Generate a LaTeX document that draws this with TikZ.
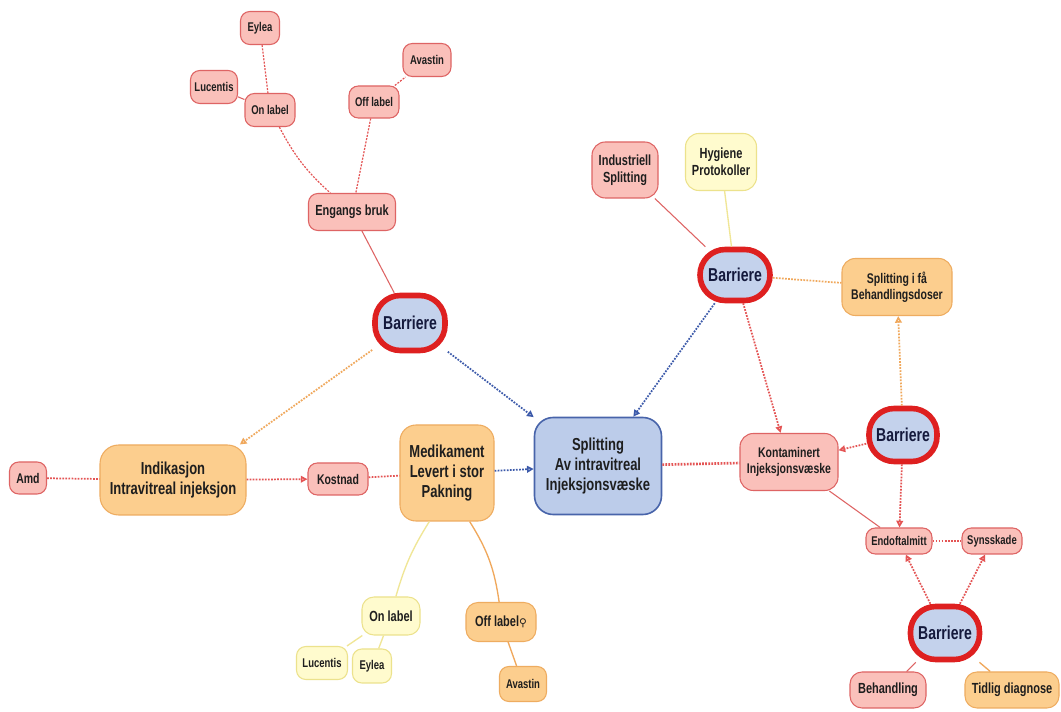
\documentclass[tikz,border=0pt]{standalone}
\usepackage{fontspec}
\newfontfamily\nf{Liberation Sans}[FakeStretch=0.75]
\newfontfamily\symf{DejaVu Sans}
\usetikzlibrary{arrows.meta}
\definecolor{rfill}{RGB}{250,192,186}
\definecolor{rdraw}{RGB}{222,100,100}
\definecolor{ofill}{RGB}{252,206,142}
\definecolor{odraw}{RGB}{238,172,96}
\definecolor{yfill}{RGB}{255,251,206}
\definecolor{ydraw}{RGB}{236,226,140}
\definecolor{bfill}{RGB}{188,204,234}
\definecolor{bdraw}{RGB}{72,100,170}
\definecolor{barfill}{RGB}{196,210,236}
\definecolor{bardraw}{RGB}{222,32,32}
\definecolor{ered}{RGB}{228,84,84}
\definecolor{eblue}{RGB}{60,90,170}
\definecolor{eorange}{RGB}{240,168,92}
\definecolor{eyellow}{RGB}{240,230,150}
\definecolor{txt}{RGB}{30,30,30}
\definecolor{bartxt}{RGB}{20,25,60}
\tikzset{
  base/.style={rectangle, rounded corners=7pt, align=center, inner sep=1pt,
    text=txt, line width=0.8pt},
  rnode/.style={base, fill=rfill, draw=rdraw},
  onode/.style={base, fill=ofill, draw=odraw},
  ynode/.style={base, fill=yfill, draw=ydraw},
  bnode/.style={base, fill=bfill, draw=bdraw, line width=1.2pt, rounded corners=14pt},
  barnode/.style={base, fill=barfill, draw=bardraw, line width=4.2pt,
    rounded corners=19pt, text=bartxt, font=\nf\bfseries\fontsize{14}{15}\selectfont},
  sz/.style 2 args={minimum width=#1*0.75pt, minimum height=#2*0.75pt},
  fsS/.style={font=\nf\bfseries\fontsize{9.5}{11}\selectfont},
  fsM/.style={font=\nf\bfseries\fontsize{10.5}{12}\selectfont},
  fsL/.style={font=\nf\bfseries\fontsize{11}{12.5}\selectfont},
  fsX/.style={font=\nf\bfseries\fontsize{13}{15}\selectfont},
  dotr/.style={draw=ered, line width=1.3pt, densely dotted},
  dotb/.style={draw=eblue, line width=1.3pt, densely dotted},
  doto/.style={draw=eorange, line width=1.3pt, densely dotted},
  dashr/.style={draw=ered, line width=0.9pt, dash pattern=on 1.5pt off 1pt},
  solr/.style={draw=rdraw, line width=0.8pt},
  soly/.style={draw=eyellow, line width=1pt},
  solo/.style={draw=eorange, line width=1pt},
  arr/.style={-{Triangle[open,length=5pt,width=5pt]}},
}
\begin{document}
\begin{tikzpicture}[x=0.75pt,y=-0.75pt]
\useasboundingbox[fill=white] (0,0) rectangle (1061,712);

% top-left cluster
\node[rnode,fsS,sz={39}{33}] (eyleaT) at (260,28) {Eylea};
\node[rnode,fsS,sz={47}{33}] (lucT) at (214,87) {Lucentis};
\node[rnode,fsS,sz={50}{33}] (onT) at (270,110) {On label};
\node[rnode,fsS,sz={48}{33}] (avT) at (427,60) {Avastin};
\node[rnode,fsS,sz={50}{32}] (offT) at (374,102) {Off label};
\node[rnode,fsL,sz={87}{37}] (eng) at (352,212) {Engangs bruk};
\node[barnode,sz={70}{55}] (bar1) at (410,323) {Barriere};

% top-right cluster
\node[rnode,fsL,sz={66}{56},rounded corners=10pt] (indu) at (625,170) {Industriell\\Splitting};
\node[ynode,fsL,sz={71}{57},rounded corners=10pt] (hyg) at (721,162) {Hygiene\\Protokoller};
\node[barnode,sz={70}{51}] (bar2) at (735,275) {Barriere};
\node[onode,fsM,sz={110}{57},rounded corners=10pt] (fa) at (897,287) {Splitting i få\\Behandlingsdoser};
\node[barnode,sz={68}{53}] (bar3) at (903,435) {Barriere};
\node[rnode,fsM,sz={98}{57},rounded corners=10pt] (kont) at (789,462) {Kontaminert\\Injeksjonsvæske};

% centre row
\node[bnode,fsX,sz={127}{97}] (split) at (598,466) {Splitting\\Av intravitreal\\Injeksjonsvæske};
\node[rnode,fsM,sz={37}{32}] (amd) at (28,478) {Amd};
\node[onode,fsX,sz={146}{70},rounded corners=14pt] (indik) at (173,480) {Indikasjon\\Intravitreal injeksjon};
\node[rnode,fsM,sz={60}{32}] (kost) at (338,479) {Kostnad};
\node[onode,fsX,sz={94}{96},rounded corners=12pt] (med) at (447,473) {Medikament\\Levert i stor\\Pakning};

% bottom-right cluster
\node[rnode,fsS,sz={66}{26}] (endo) at (899,541) {Endoftalmitt};
\node[rnode,fsS,sz={60}{26}] (syns) at (992,541) {Synsskade};
\node[barnode,sz={69}{53}] (bar4) at (945,633) {Barriere};
\node[rnode,fsL,sz={76}{36},rounded corners=9pt] (beh) at (888,690) {Behandling};
\node[onode,fsL,sz={94}{36},rounded corners=9pt] (tid) at (1012,690) {Tidlig diagnose};

% bottom cluster
\node[ynode,fsL,sz={58}{38},rounded corners=9pt] (onB) at (391,616) {On label};
\node[ynode,fsS,sz={51}{33}] (lucB) at (322,663) {Lucentis};
\node[ynode,fsS,sz={39}{34}] (eyB) at (372,666) {Eylea};
\node[onode,fsL,sz={70}{39},rounded corners=9pt] (offB) at (501,622) {Off label{\symf\fontsize{8}{9}\selectfont ⚲}};
\node[onode,fsS,sz={47}{35}] (avB) at (523,684) {Avastin};

% connectors: top-left
\draw[dashr] (eyleaT) -- (onT);
\draw[solr] (lucT) -- (onT);
\draw[dashr] (onT) to[bend right=10] (eng);
\draw[dashr] (offT) -- (eng);
\draw[dashr] (offT) -- (avT);
\draw[solr] (eng) -- (bar1);
\draw[doto,arr] (bar1) -- (indik.28);
\draw[dotb,arr] (bar1) -- (split);

% top-right
\draw[dotb,arr] (bar2) -- (split);
\draw[dotr,arr] (bar2) -- (kont);
\draw[doto] (bar2) -- (fa);
\draw[solr] (indu) -- (bar2);
\draw[soly] (hyg) -- (bar2);
\draw[doto,arr] (bar3) -- (fa);
\draw[dotr,arr] (bar3) -- (kont);
\draw[dotr,arr] (bar3) -- (endo);
\draw[solr] (kont) -- (endo);
\draw[dotr] (endo) -- (syns);
\draw[dotr,arr] (bar4) -- (endo);
\draw[dotr,arr] (bar4) -- (syns);
\draw[solr] (bar4) -- (beh);
\draw[solo] (bar4) -- (tid);

% centre row
\draw[dotr] (amd) -- (indik);
\draw[dotr,arr] (indik) -- (kost);
\draw[dotr] (kost) -- (med);
\draw[dotb,arr] (med) -- (split);
\draw[dotr,line width=2pt] (split) -- (kont);

% bottom
\draw[soly] (med.250) to[bend right=8] (onB);
\draw[solo] (med.295) to[bend left=12] (offB);
\draw[soly] (onB) -- (lucB);
\draw[soly] (onB) -- (eyB);
\draw[solo] (offB) -- (avB);
\end{tikzpicture}
\end{document}
